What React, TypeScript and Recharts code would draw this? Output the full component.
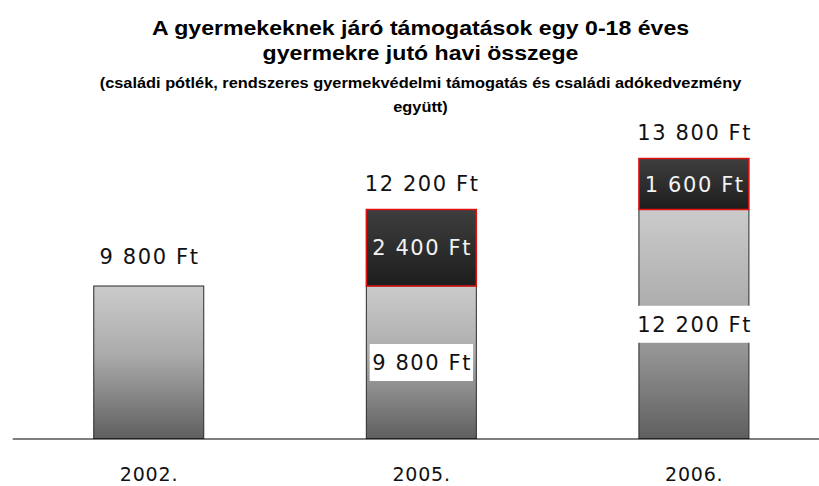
import React from 'react';
import { BarChart, Bar, XAxis, YAxis } from 'recharts';

const years = ['2002.', '2005.', '2006.'];
const baseValues = [9800, 9800, 12200];
const extraValues = [0, 2400, 1600];
const totalValues = [9800, 12200, 13800];
const yDomain: [number, number] = [5000, 15000];

const titleLines = ['A gyermekeknek járó támogatások egy 0-18 éves', 'gyermekre jutó havi összege'];
const subtitleLines = ['(családi pótlék, rendszeres gyermekvédelmi támogatás és családi adókedvezmény', 'együtt)'];

const data = years.map((year, i) => ({
  year,
  base: baseValues[i],
  extra: extraValues[i],
  total: totalValues[i],
}));

const CHART_W = 840;
const CHART_H = 486;
const AXIS_H = 47;
const PLOT_BOTTOM = CHART_H - AXIS_H;
const LABEL_FONT = 'DejaVu Sans';
const LABEL_SIZE = 21;
const LABEL_LS = 1.6;

const fmt = (v: number) => v.toString().replace(/\B(?=(\d{3})+(?!\d))/g, ' ') + ' Ft';

let ctx: CanvasRenderingContext2D | null = null;
const measure = (s: string) => {
  if (typeof document === 'undefined') return s.length * 12;
  if (!ctx) ctx = document.createElement('canvas').getContext('2d');
  if (!ctx) return s.length * 12;
  ctx.font = `${LABEL_SIZE}px "${LABEL_FONT}"`;
  return ctx.measureText(s).width + LABEL_LS * (s.length - 1);
};

const Label = ({ cx, cy, text, fill }: { cx: number; cy: number; text: string; fill: string }) => (
  <text
    x={cx + LABEL_LS / 2}
    y={cy + 0.3645 * LABEL_SIZE}
    textAnchor="middle"
    fontFamily={LABEL_FONT}
    fontSize={LABEL_SIZE}
    letterSpacing={LABEL_LS}
    fill={fill}
  >
    {text}
  </text>
);

const BaseShape = (p: any) => {
  const { x, y, width, height, payload } = p;
  const bottom = Math.min(y + height, PLOT_BOTTOM);
  const h = bottom - y;
  if (!(h > 0)) return null;
  const cx = x + width / 2;
  let label: React.ReactNode = null;
  if (payload.extra > 0) {
    const cy = y + h / 2;
    const txt = fmt(payload.base);
    const w = measure(txt) + 5;
    label = (
      <g>
        <rect x={cx - w / 2} y={cy - 18.5} width={w} height={37} fill="#ffffff" />
        <Label cx={cx} cy={cy} text={txt} fill="#111" />
      </g>
    );
  } else {
    label = <Label cx={cx} cy={y - 30} text={fmt(payload.total)} fill="#111" />;
  }
  return (
    <g>
      <rect x={x} y={y} width={width} height={h} fill="url(#gBase)" stroke="#2b2b2b" strokeWidth={1} />
      {label}
    </g>
  );
};

const TopShape = (p: any) => {
  const { x, y, width, height, payload } = p;
  if (!(height > 0) || !(payload.extra > 0)) return null;
  const cx = x + width / 2;
  return (
    <g>
      <rect x={x} y={y} width={width} height={height} fill="url(#gTop)" stroke="#e01212" strokeWidth={1.5} />
      <Label cx={cx} cy={y + height / 2} text={fmt(payload.extra)} fill="#f2f2f2" />
      <Label cx={cx} cy={y - 26} text={fmt(payload.total)} fill="#111" />
    </g>
  );
};

export default function App() {
  return (
    <div
      style={{
        position: 'absolute',
        left: 0,
        top: 0,
        width: 819,
        height: 486,
        overflow: 'hidden',
        background: '#ffffff',
      }}
    >
      <div
        style={{
          position: 'absolute',
          left: 0,
          top: 0,
          width: 841,
          textAlign: 'center',
          fontFamily: '"Liberation Sans", Arial, sans-serif',
          fontWeight: 'bold',
          color: '#000',
        }}
      >
        <div
          style={{
            position: 'absolute',
            top: 15,
            width: 841,
            fontSize: 21,
            lineHeight: '25px',
            transform: 'scaleX(1.1)',
            transformOrigin: '420.5px 0',
          }}
        >
          {titleLines.map((l) => (
            <div key={l}>{l}</div>
          ))}
        </div>
        <div
          style={{
            position: 'absolute',
            top: 71,
            width: 841,
            fontSize: 15,
            lineHeight: '24px',
            transform: 'scaleX(1.09)',
            transformOrigin: '420.5px 0',
          }}
        >
          {subtitleLines.map((l) => (
            <div key={l}>{l}</div>
          ))}
        </div>
      </div>
      <div style={{ position: 'absolute', left: 0, top: 0 }}>
        <BarChart
          width={CHART_W}
          height={CHART_H}
          data={data}
          margin={{ top: 120.25, right: 9.5, left: 12.75, bottom: 0 }}
          barSize={110}
        >
          <defs>
            <linearGradient id="gBase" x1="0" y1="0" x2="0" y2="1">
              <stop offset="0%" stopColor="#cbcbcb" />
              <stop offset="45%" stopColor="#ababab" />
              <stop offset="100%" stopColor="#5f5f5f" />
            </linearGradient>
            <linearGradient id="gTop" x1="0" y1="0" x2="0" y2="1">
              <stop offset="0%" stopColor="#3e3e3e" />
              <stop offset="100%" stopColor="#1d1d1d" />
            </linearGradient>
          </defs>
          <XAxis
            dataKey="year"
            height={AXIS_H}
            axisLine={{ stroke: '#000', strokeWidth: 1.2 }}
            tickLine={false}
            tickMargin={23}
            interval={0}
            tick={{ fontFamily: 'DejaVu Sans', fontSize: 19, fill: '#111', letterSpacing: 0.8 }}
          />
          <YAxis hide domain={yDomain} allowDataOverflow />
          <Bar dataKey="base" stackId="a" shape={BaseShape} isAnimationActive={false} />
          <Bar dataKey="extra" stackId="a" shape={TopShape} isAnimationActive={false} />
        </BarChart>
      </div>
    </div>
  );
}
